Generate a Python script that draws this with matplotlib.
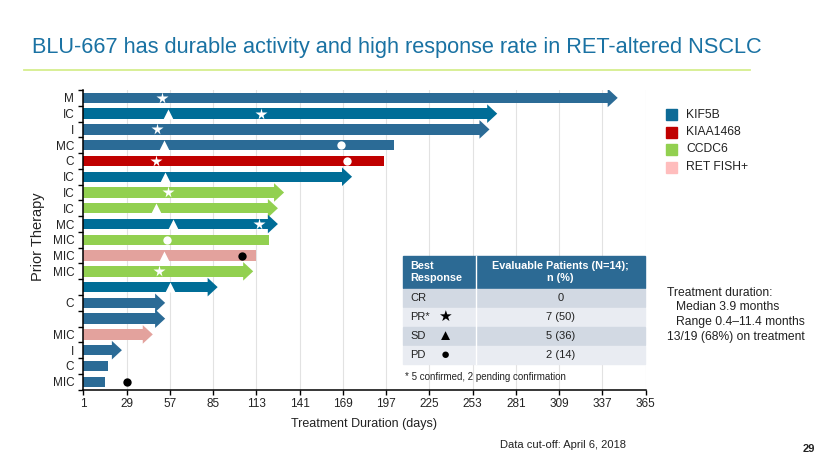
import matplotlib.pyplot as plt
from matplotlib.patches import Rectangle, Polygon

plt.rcParams['font.family'] = ['Liberation Sans', 'DejaVu Sans']

# 每个患者一行, 从上到下
therapy = ['M', 'IC', 'I', 'MC', 'C', 'IC', 'IC', 'IC', 'MC', 'MIC',
           'MIC', 'MIC', '', 'C', '', 'MIC', 'I', 'C', 'MIC']
fusion = ['KIF5B', 'KIF5B', 'KIF5B', 'KIF5B', 'KIAA1468', 'KIF5B', 'CCDC6', 'CCDC6',
          'KIF5B', 'CCDC6', 'RET FISH+', 'CCDC6', 'KIF5B', 'KIF5B', 'KIF5B',
          'RET FISH+', 'KIF5B', 'KIF5B', 'KIF5B']
duration = [347, 269, 264, 202, 196, 175, 131, 127, 127, 121,
            113, 111, 88, 54, 54, 46, 26, 17, 15]
ongoing = [True, True, True, False, False, True, True, True, True, False,
           False, True, True, True, True, True, True, False, False]

# 疗效标记 (行号, 天数)
star_row = [0, 1, 2, 4, 6, 8, 11]
star_day = [52, 116, 49, 48, 56, 115, 50]
tri_row = [1, 3, 5, 7, 8, 10, 12]
tri_day = [56, 53, 54, 48, 59, 53, 57]
wcirc_row = [3, 4, 9]
wcirc_day = [168, 172, 55]
bcirc_row = [10, 18]
bcirc_day = [104, 29]

x_ticks = [1, 29, 57, 85, 113, 141, 169, 197, 225, 253, 281, 309, 337, 365]

fusion_names = ['KIF5B', 'KIAA1468', 'CCDC6', 'RET FISH+']

# 表格
resp = ['CR', 'PR*', 'SD', 'PD']
resp_sym = ['', '★', '▲', '●']
resp_n = ['0', '7 (50)', '5 (36)', '2 (14)']

# 颜色
colors = {'KIF5B': '#2b6b96', 'KIAA1468': '#c00000', 'CCDC6': '#92d050', 'RET FISH+': '#e3a29d'}
legend_colors = {'KIF5B': '#0d6a96', 'KIAA1468': '#c00000', 'CCDC6': '#92d050', 'RET FISH+': '#ffbdbd'}
deep_blue = '#006d97'
deep_rows = [1, 5, 8, 12]

fig = plt.figure(figsize=(8.3, 4.67), dpi=100)
W, H = 830, 467
ax = fig.add_axes((83.3 / W, 1 - 389.6 / H, (645.5 - 83.3) / W, 299.6 / H))

bar_h = 0.66
head_h = 1.18
head_len = 6.5
for i in range(len(therapy)):
    col = colors[fusion[i]]
    if fusion[i] == 'KIF5B' and i in deep_rows:
        col = deep_blue
    if ongoing[i]:
        body_end = duration[i] - head_len
        ax.barh(i, body_end + 0.3 - 1, left=1, height=bar_h, color=col, zorder=2)
        ax.add_patch(Polygon([[body_end, i - head_h / 2], [duration[i], i],
                              [body_end, i + head_h / 2]], closed=True, color=col, zorder=2, lw=0))
    else:
        ax.barh(i, duration[i] - 1, left=1, height=bar_h, color=col, zorder=2)

ax.plot(star_day, star_row, ls='none', marker='*', ms=8.5, color='white', mec='none', zorder=3)
ax.plot(tri_day, tri_row, ls='none', marker='^', ms=6.5, color='white', mec='none', zorder=3)
ax.plot(wcirc_day, wcirc_row, ls='none', marker='o', ms=6, color='white', mec='none', zorder=3)
ax.plot(bcirc_day, bcirc_row, ls='none', marker='o', ms=6, color='black', mec='none', zorder=3)

ax.set_xlim(1, 365)
ax.set_ylim(len(therapy) - 0.5, -0.5)
ax.set_xticks(x_ticks)
ax.set_xticklabels([str(t) for t in x_ticks])
ax.set_yticks([k - 0.5 for k in range(len(therapy) + 1)])
ax.set_yticklabels([])
ax.set_yticks(range(len(therapy)), minor=True)
ax.set_yticklabels(therapy, minor=True)
ax.tick_params(axis='y', which='major', length=3.5, width=1, direction='out')
ax.tick_params(axis='y', which='minor', length=0, labelsize=8.5, pad=6.5, labelcolor='#222222')
ax.tick_params(axis='x', length=3.5, width=1, direction='out', labelsize=8.5, pad=2.5, labelcolor='#222222')
ax.grid(axis='x', color='#e2e2e2', linewidth=0.8)
ax.set_axisbelow(True)
for s in ['top', 'right']:
    ax.spines[s].set_visible(False)
for s in ['left', 'bottom']:
    ax.spines[s].set_linewidth(1.1)

# 覆盖层, 以像素为坐标
ov = fig.add_axes((0, 0, 1, 1))
ov.set_xlim(0, W)
ov.set_ylim(H, 0)
ov.axis('off')

ov.text(32, 53, 'BLU-667 has durable activity and high response rate in RET-altered NSCLC',
        fontsize=15.7, color='#1a72a3', va='baseline')
ov.plot([24, 750], [70, 70], color='#d6ee8e', lw=1.3)

ov.text(38, 237, 'Prior Therapy', rotation=90, fontsize=10.5, ha='center', va='center', color='#222222')
ov.text(364, 424, 'Treatment Duration (days)', fontsize=9, ha='center', va='center', color='#222222')

for k, name in enumerate(fusion_names):
    ov.add_patch(Rectangle((666, 109 + k * 17.5), 11, 11, color=legend_colors[name]))
    ov.text(686, 114.5 + k * 17.5, name, fontsize=8.7, va='center', color='#222222')

# 表格
x0, x1, xm = 403, 645, 476
ov.add_patch(Rectangle((x0, 256), x1 - x0, 32, color='#2c6a94', zorder=2))
ov.plot([xm, xm], [256, 288], color='white', lw=1, zorder=3)
ov.text(410, 272, 'Best\nResponse', fontsize=7.8, fontweight='bold', color='white',
        va='center', ha='left', linespacing=1.15, zorder=4)
ov.text((xm + x1) / 2, 272, 'Evaluable Patients (N=14);\nn (%)', fontsize=7.8, fontweight='bold',
        color='white', va='center', ha='center', linespacing=1.15, zorder=4)
for k in range(len(resp)):
    y = 289 + k * 19.1
    fc = '#d2d9e3' if k % 2 == 0 else '#e9ecf2'
    ov.add_patch(Rectangle((x0, y), x1 - x0, 18.1, color=fc, zorder=2))
    ov.plot([xm, xm], [y, y + 18.1], color='white', lw=1, zorder=3)
    ov.text(410, y + 9, resp[k], fontsize=8, va='center', color='#222222', zorder=4)
    ov.text(445, y + 9, resp_sym[k], fontsize=11, va='center', ha='center', color='black', zorder=4)
    ov.text((xm + x1) / 2, y + 9, resp_n[k], fontsize=8, va='center', ha='center',
            color='#222222', zorder=4)
ov.text(405, 377, '* 5 confirmed, 2 pending confirmation', fontsize=7, va='center', color='#222222')

ov.text(667, 293, 'Treatment duration:', fontsize=8.7, va='center', color='#222222')
ov.text(676, 307, 'Median 3.9 months', fontsize=8.7, va='center', color='#222222')
ov.text(676, 322, 'Range 0.4\u201311.4 months', fontsize=8.7, va='center', color='#222222')
ov.text(667, 337, '13/19 (68%) on treatment', fontsize=8.7, va='center', color='#222222')

ov.text(500, 445, 'Data cut-off: April 6, 2018', fontsize=8, va='center', color='#222222')
ov.text(809, 449, '29', fontsize=8, fontweight='bold', ha='center', va='center', color='#222222')

plt.savefig('out.png', dpi=100)
